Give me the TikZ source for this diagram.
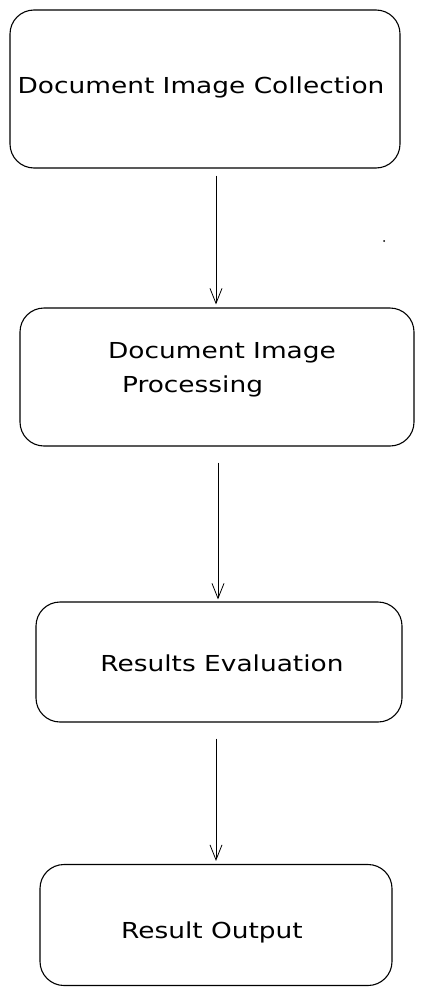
\documentclass[tikz,border=0pt]{standalone}
\usepackage{fontspec}
\setmainfont[FakeStretch = 1.2]{DejaVu Sans}
\usetikzlibrary{calc, arrows.meta}

\tikzset{
	stepbox/.style = {draw, line width = 1.1pt, rounded corners = 24pt, inner sep = 0pt},
	boxtext/.style = {font = \fontsize{22}{34}\selectfont, inner sep = 0pt, align = left},
	flow/.style = {line width = 0.8pt, -{Straight Barb[length = 15pt, width = 12pt, line width = 0.8pt]}}
}

\begin{document}
	\begin{tikzpicture}[x = 1pt, y = -1pt]
		\def\xMIN{0};
		\def\xMAX{424};
		\def\yMIN{0};
		\def\yMAX{998};

		\useasboundingbox (\xMIN,\yMIN) rectangle (\xMAX,\yMAX);

		% boxes
		\node [stepbox, minimum width = 390pt, minimum height = 158pt] (collect) at (205,89) {};
		\node [stepbox, minimum width = 394pt, minimum height = 138pt] (process) at (217,377) {};
		\node [stepbox, minimum width = 366pt, minimum height = 120pt] (evaluate) at (219,662) {};
		\node [stepbox, minimum width = 352pt, minimum height = 121pt] (output) at (216,925) {};

		% texts
		\node [boxtext] (collectText) at (201,87) {Document Image Collection};
		\node [boxtext] (processText) at (222,370) {Document Image\\\hspace{14pt}Processing};
		\node [boxtext] (evaluateText) at (222,663) {Results Evaluation};
		\node [boxtext] (outputText) at (212,932) {Result Output};

		% arrows
		\draw [flow] ([xshift = 11pt, yshift = -7pt] collect.south) -- ([xshift = -1pt, yshift = 3pt] process.north);
		\draw [flow] ([xshift = 1pt, yshift = -16pt] process.south) -- ([xshift = -1pt, yshift = 2pt] evaluate.north);
		\draw [flow] ([xshift = -3pt, yshift = -16pt] evaluate.south) -- ([yshift = 3pt] output.north);

		\coordinate (speck) at (384,241);
		\fill (speck) circle (1pt);
	\end{tikzpicture}
\end{document}
